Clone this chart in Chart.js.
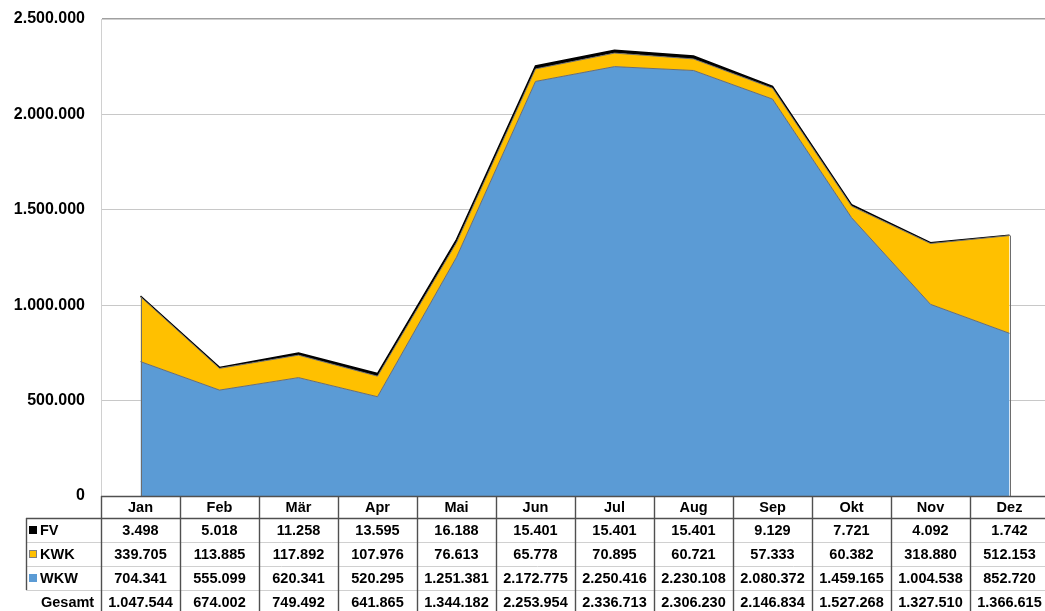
<!DOCTYPE html>
<html>
<head>
<meta charset="utf-8">
<script src="https://cdn.jsdelivr.net/npm/chart.js@4.4.1/dist/chart.umd.min.js"></script>
<style>
  html, body { margin: 0; padding: 0; background: #fff; overflow: hidden; }
  #wrap { position: relative; width: 1049px; height: 611px; }
</style>
</head>
<body>
<div id="wrap"><canvas id="stromChart"></canvas></div>
<script>
const months = ['Jan', 'Feb', 'Mär', 'Apr', 'Mai', 'Jun', 'Jul', 'Aug', 'Sep', 'Okt', 'Nov', 'Dez'];
const fv = [3498, 5018, 11258, 13595, 16188, 15401, 15401, 15401, 9129, 7721, 4092, 1742];
const kwk = [339705, 113885, 117892, 107976, 76613, 65778, 70895, 60721, 57333, 60382, 318880, 512153];
const wkw = [704341, 555099, 620341, 520295, 1251381, 2172775, 2250416, 2230108, 2080372, 1459165, 1004538, 852720];
const gesamt = [1047544, 674002, 749492, 641865, 1344182, 2253954, 2336713, 2306230, 2146834, 1527268, 1327510, 1366615];
const yMax = 2500000;
const yStep = 500000;

const FONT = '"Liberation Sans", Arial, sans-serif';

function fmt(n) {
    return String(n).replace(/\B(?=(\d{3})+(?!\d))/g, '.');
}

// rows of the data table under the chart
const tableRows = [
    { label: 'FV', color: '#000000', edge: '#000000', values: fv },
    { label: 'KWK', color: '#ffc000', edge: '#7f7f7f', values: kwk },
    { label: 'WKW', color: '#5b9bd5', edge: '#5b9bd5', values: wkw },
    { label: 'Gesamt', color: null, values: gesamt }
];

// grey outline on the left and right ends of the stacked area
const areaEdges = {
    id: 'areaEdges',
    afterDatasetsDraw(chart) {
        const { ctx } = chart;
        const x = chart.scales.x;
        const y = chart.scales.y;
        ctx.save();
        ctx.strokeStyle = '#6d6d6d';
        ctx.lineWidth = 1;
        [0, months.length - 1].forEach(i => {
            const xx = Math.round(x.getPixelForValue(i)) + 0.5;
            ctx.beginPath();
            ctx.moveTo(xx, y.getPixelForValue(0));
            ctx.lineTo(xx, y.getPixelForValue(wkw[i] + kwk[i]));
            ctx.stroke();
        });
        ctx.restore();
    }
};

const dataTable = {
    id: 'dataTable',
    afterDraw(chart) {
        const { ctx, chartArea } = chart;
        const x = chart.scales.x;
        const left = chartArea.left;
        const right = chartArea.right;
        const colW = (right - left) / months.length;
        const top = Math.round(chartArea.bottom);
        const headH = 22;
        const rowH = 24;
        const legendLeft = 26;
        const bottom = chart.height;

        ctx.save();
        ctx.font = 'bold 14.5px ' + FONT;
        ctx.fillStyle = '#000';
        ctx.textBaseline = 'middle';

        // header (months)
        ctx.textAlign = 'center';
        months.forEach((m, i) => {
            ctx.fillText(m, x.getPixelForValue(i), top + headH / 2 + 1);
        });

        // data rows
        tableRows.forEach((row, r) => {
            const yTop = top + headH + r * rowH;
            const yMid = yTop + rowH / 2 + 1;
            ctx.textAlign = 'center';
            ctx.fillStyle = '#000';
            row.values.forEach((v, i) => {
                ctx.fillText(fmt(v), x.getPixelForValue(i), yMid);
            });
            ctx.textAlign = 'left';
            if (row.color) {
                ctx.fillStyle = row.color;
                ctx.fillRect(29, yMid - 5, 8, 8);
                ctx.strokeStyle = row.edge;
                ctx.lineWidth = 1;
                ctx.strokeRect(29.5, yMid - 4.5, 7, 7);
                ctx.fillStyle = '#000';
                ctx.fillText(row.label, 40, yMid);
            } else {
                ctx.fillText(row.label, 41, yMid);
            }
        });

        // light horizontal separators between data rows
        ctx.strokeStyle = '#d0d0d0';
        ctx.lineWidth = 1;
        for (let r = 1; r < tableRows.length; r++) {
            const y = top + headH + r * rowH + 0.5;
            ctx.beginPath();
            ctx.moveTo(legendLeft, y);
            ctx.lineTo(right, y);
            ctx.stroke();
        }

        // dark lines
        ctx.strokeStyle = '#505050';
        ctx.lineWidth = 1.4;
        ctx.beginPath();
        ctx.moveTo(left, top + 0.5);
        ctx.lineTo(right, top + 0.5);
        ctx.moveTo(legendLeft, top + headH + 0.5);
        ctx.lineTo(right, top + headH + 0.5);
        for (let i = 0; i <= months.length; i++) {
            const xx = Math.round(left + i * colW) + 0.5;
            ctx.moveTo(xx, top);
            ctx.lineTo(xx, bottom);
        }
        ctx.moveTo(legendLeft + 0.5, top + headH);
        ctx.lineTo(legendLeft + 0.5, top + headH + 3 * rowH);
        ctx.stroke();
        ctx.restore();
    }
};

function area(label, data, bg, border, width, fill) {
    return {
        label: label,
        data: data,
        backgroundColor: bg,
        borderColor: border,
        borderWidth: width,
        fill: fill,
        pointRadius: 0,
        tension: 0
    };
}

const ctx = document.getElementById('stromChart').getContext('2d');
const chart = new Chart(ctx, {
    type: 'line',
    data: {
        labels: months,
        datasets: [
            area('WKW', wkw, '#5b9bd5', '#6d6d6d', 1, 'origin'),
            area('KWK', kwk, '#ffc000', '#6d6d6d', 1, '-1'),
            area('FV', fv, '#000000', '#000000', 1.5, '-1')
        ]
    },
    options: {
        responsive: true,
        maintainAspectRatio: false,
        animation: false,
        layout: { padding: { top: 19, bottom: 115, left: 0, right: 0 } },
        plugins: {
            legend: { display: false },
            tooltip: { enabled: false }
        },
        scales: {
            x: {
                display: false,
                offset: true
            },
            y: {
                stacked: true,
                min: 0,
                max: yMax,
                afterFit: s => {
                    s.width = 101;
                    s.paddingTop = 0;
                    s.paddingBottom = 0;
                },
                ticks: {
                    stepSize: yStep,
                    padding: 16,
                    color: '#000',
                    font: { family: FONT, size: 16, weight: 'bold' },
                    callback: v => fmt(v)
                },
                grid: {
                    drawTicks: false,
                    color: c => (c.tick && c.tick.value === yMax) ? '#a0a0a0' : '#c8c8c8',
                    lineWidth: c => (c.tick && c.tick.value === yMax) ? 1.5 : 1
                },
                border: { color: '#d0d0d0' }
            }
        }
    },
    plugins: [areaEdges, dataTable]
});
</script>
</body>
</html>
